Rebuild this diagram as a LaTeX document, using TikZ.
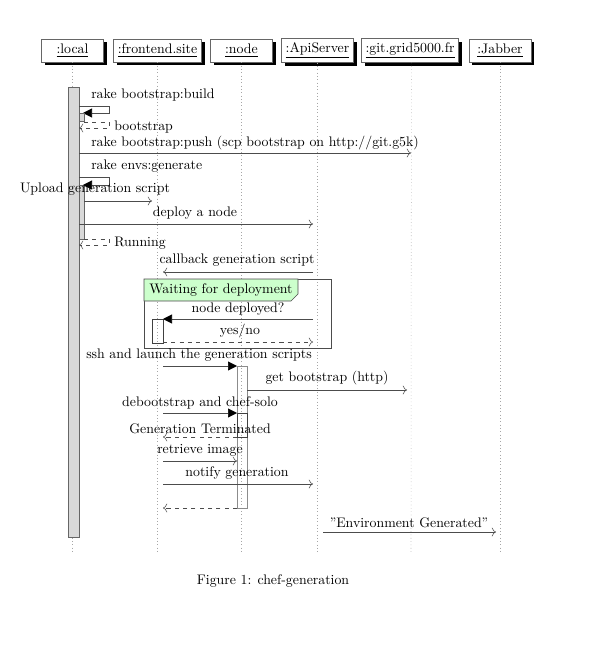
\documentclass[tikz,border=0pt]{standalone}
\usetikzlibrary{arrows.meta,shadows}

\begin{document}
\begin{tikzpicture}[x=0.722pt,y=0.722pt,yscale=-1,xscale=1,
  inst/.style={draw=black!60,fill=white,minimum width=45pt,minimum height=16.6pt,inner sep=3pt,
    drop shadow={shadow xshift=2.4pt,shadow yshift=-2.4pt,fill=black,opacity=1}},
  life/.style={dotted,gray!70},
  bar/.style={draw=black!60,fill=gray!30},
  actbox/.style={draw=black!75},
  call/.style={draw=black!70,-{Triangle[length=6.5pt,width=6.5pt,black]}},
  msg/.style={draw=black!70,-{To[length=3pt]}},
  ret/.style={draw=black!70,dashed,-{To[length=3pt]}},
  lbl/.style={inner sep=0.75pt}]
\useasboundingbox (0,0) rectangle (592,658);

% Instances
\node [inst] (local) at (72.5,50.5) {\underline{:local}};
\node [inst] (front) at (157.5,50.5) {\underline{:frontend.site}};
\node [inst] (nd) at (241.5,50.5) {\underline{:node}};
\node [inst] (api) at (317.5,50.5) {\underline{:ApiServer}};
\node [inst] (git) at (410,50.5) {\underline{:git.grid5000.fr}};
\node [inst] (jab) at (500,50.5) {\underline{:Jabber}};

% Lifelines
\coordinate (local end) at (72.5,553);
\coordinate (front end) at (157.5,553);
\coordinate (nd end) at (241.5,553);
\coordinate (api end) at (317.5,553);
\coordinate (git end) at (411,553);
\coordinate (jab end) at (500,553);
\draw [life] (local) -- (local end);
\draw [life] (front) -- (front end);
\draw [life] (nd) -- (nd end);
\draw [life] (api) -- (api end);
\draw [life] ([xshift=1pt]git.south) -- (git end);
\draw [life] (jab) -- (jab end);

% Activation of local
\draw [bar] (68,87) rectangle (79,537);

% rake bootstrap:build
\node [lbl, anchor=west] (l1) at (90,95) {rake bootstrap:build};
\coordinate (c1s) at (79,106);
\coordinate (c1t) at (83,113);
\draw [call] (c1s) -- ++(30,0) |- (c1t);
\draw [bar] (79,113) rectangle (84,121);
\coordinate (r1s) at (84,122);
\coordinate (r1t) at (79,128);
\draw [ret] (r1s) -- ++(25,0) |- (r1t);
\node [lbl, anchor=west] (l2) at (113,127) {bootstrap};

% rake bootstrap:push
\node [lbl, anchor=west] (l3) at (90,143) {rake bootstrap:push (scp bootstrap on http://git.g5k)};
\coordinate (m2s) at (79,153);
\coordinate (m2e) at (411,153);
\draw [msg] (m2s) -- (m2e);

% rake envs:generate
\node [lbl, anchor=west] (l4) at (90,166) {rake envs:generate};
\coordinate (c3s) at (79,177);
\coordinate (c3t) at (83,185);
\draw [bar] (79,185) rectangle (84,239);
\draw [call] (c3s) -- ++(30,0) |- (c3t);

\node [lbl] (l5) at (95,189) {Upload generation script};
\coordinate (m4s) at (84,201);
\coordinate (m4e) at (152,201);
\draw [msg] (m4s) -- (m4e);

\node [lbl] (l6) at (195,213) {deploy a node};
\coordinate (m5s) at (79,224);
\coordinate (m5e) at (313,224);
\draw [msg] (m5s) -- (m5e);

\coordinate (r2s) at (84,239);
\coordinate (r2t) at (79,245);
\draw [ret] (r2s) -- ++(25,0) |- (r2t);
\node [lbl, anchor=west] (l7) at (113,243) {Running};

% callback
\node [lbl] (l8) at (237,260) {callback generation script};
\coordinate (m6s) at (313,272);
\coordinate (m6e) at (163,272);
\draw [msg] (m6s) -- (m6e);

% Waiting for deployment
\draw [draw=black!70] (144,279) rectangle (331,348);
\draw [draw=black!70, fill=green!20] (144,279) -- (298,279) -- (298,294) -- (291,301) -- (144,301) -- cycle;
\node [lbl] (wait) at (221,290) {Waiting for deployment};

\node [lbl] (l9) at (238,309) {node deployed?};
\coordinate (m7s) at (313,319);
\coordinate (m7e) at (163,319);
\draw [actbox] (152,319) rectangle (163,343);
\draw [call] (m7s) -- (m7e);

\node [lbl] (l10) at (240,331) {yes/no};
\coordinate (r3s) at (163,342);
\coordinate (r3e) at (313,342);
\draw [ret] (r3s) -- (r3e);

% generation on the node
\node [lbl] (l11) at (199,355) {ssh and launch the generation scripts};
\coordinate (m8s) at (163,366);
\coordinate (m8e) at (237,366);
\draw [draw=black!45] (237,366) rectangle (247,508);
\draw [call] (m8s) -- (m8e);

\node [lbl] (l12) at (327,378) {get bootstrap (http)};
\coordinate (m9s) at (247,390);
\coordinate (m9e) at (407,390);
\draw [msg] (m9s) -- (m9e);

\node [lbl] (l13) at (200,403) {debootstrap and chef-solo};
\coordinate (m10s) at (163,413);
\coordinate (m10e) at (237,413);
\draw [actbox] (237,413) rectangle (247,437);
\draw [call] (m10s) -- (m10e);

\node [lbl] (l14) at (200,429) {Generation Terminated};
\coordinate (r4s) at (237,437);
\coordinate (r4e) at (163,437);
\draw [ret] (r4s) -- (r4e);

\node [lbl] (l15) at (200,450) {retrieve image};
\coordinate (m11s) at (163,461);
\coordinate (m11e) at (237,461);
\draw [msg] (m11s) -- (m11e);

\node [lbl] (l16) at (237,473) {notify generation};
\coordinate (m12s) at (163,484);
\coordinate (m12e) at (313,484);
\draw [msg] (m12s) -- (m12e);

\coordinate (r5s) at (237,508);
\coordinate (r5e) at (163,508);
\draw [ret] (r5s) -- (r5e);

% Jabber
\node [lbl] (l17) at (409,523) {''Environment Generated''};
\coordinate (m13s) at (323,532);
\coordinate (m13e) at (496,532);
\draw [msg] (m13s) -- (m13e);

% Caption
\node [lbl] (cap) at (273,581) {Figure 1: chef-generation};

\end{tikzpicture}
\end{document}
